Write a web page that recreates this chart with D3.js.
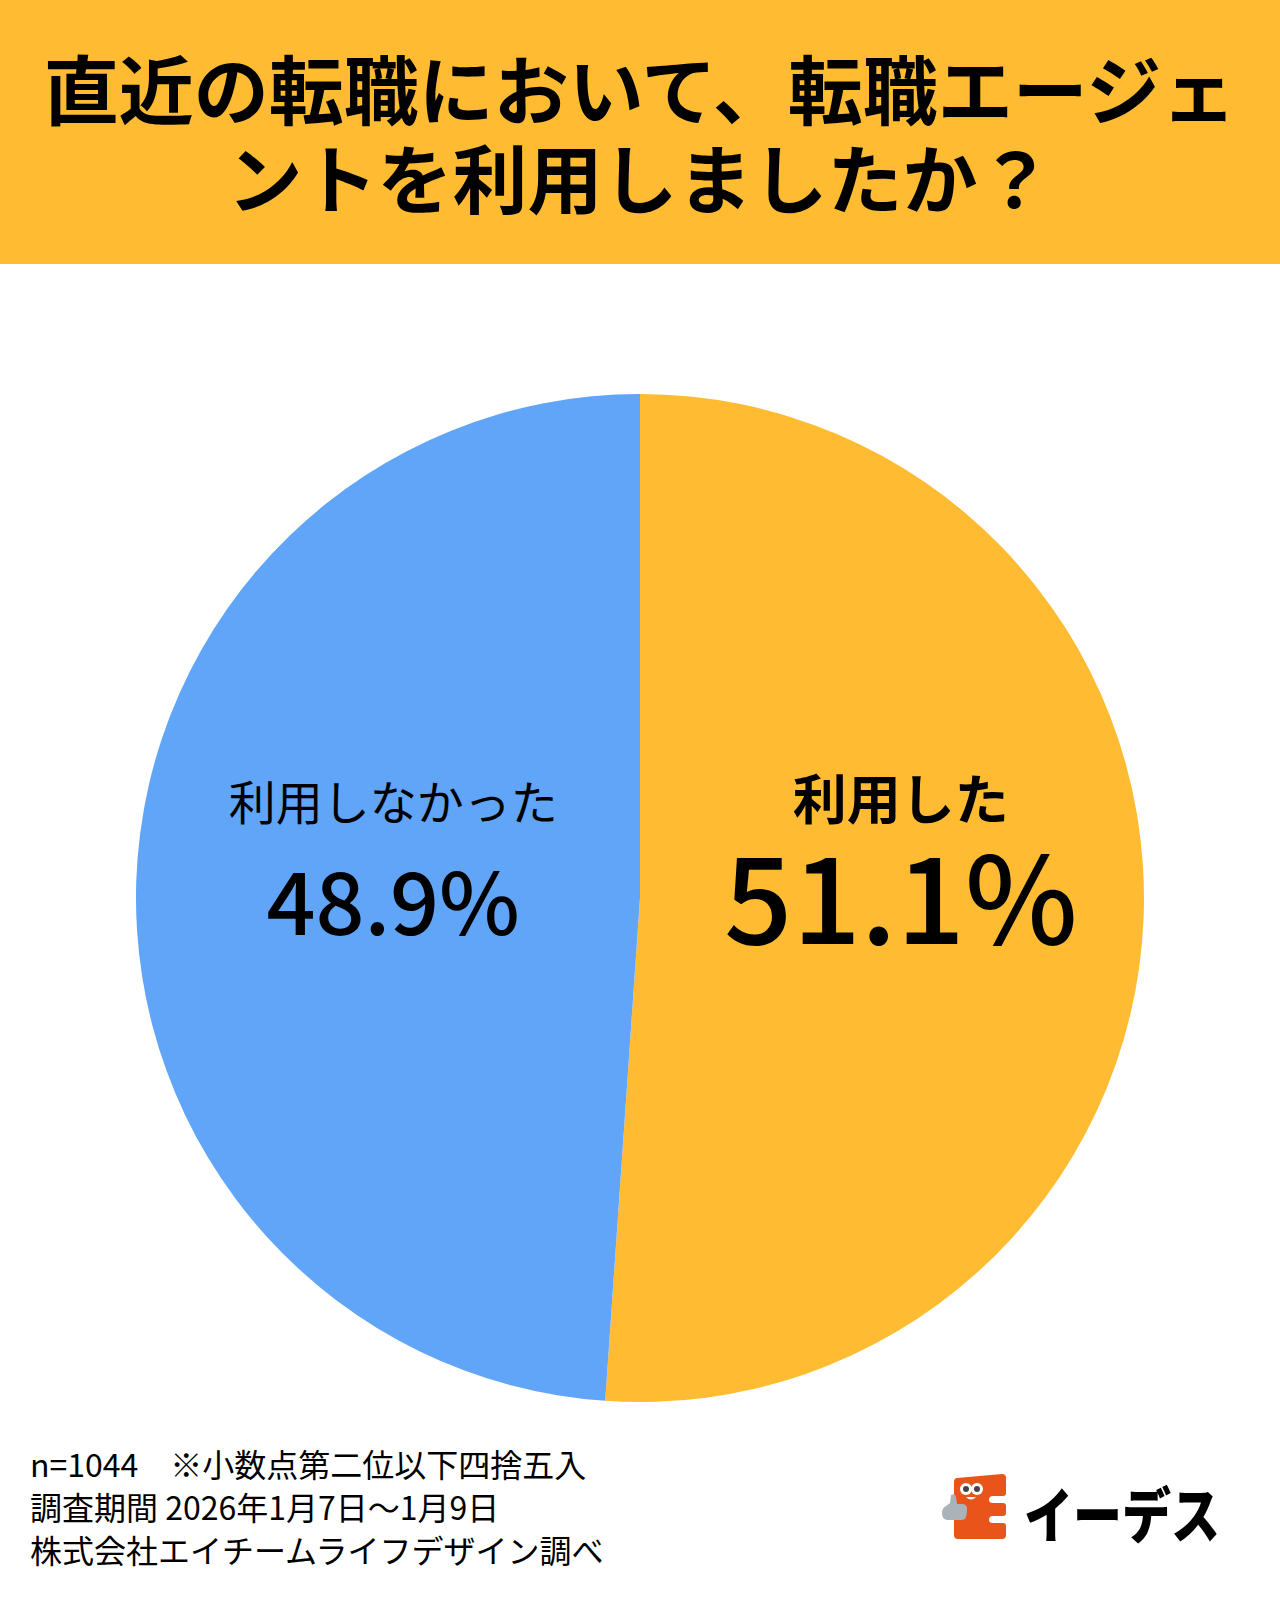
<!DOCTYPE html>
<html>
<head>
<meta charset="utf-8">
<script src="https://cdn.jsdelivr.net/npm/d3@7"></script>
<style>
  html, body { margin: 0; padding: 0; background: #ffffff; }
  svg { display: block; }
  text { font-family: "Noto Sans CJK JP", "Noto Sans", sans-serif; fill: #000; }
</style>
</head>
<body>
<svg id="chart" width="1280" height="1600"></svg>
<script>
// ---- data ----
const titleLines = ["直近の転職において、転職エージェ", "ントを利用しましたか？"];
const categories = ["利用した", "利用しなかった"];
const values = [51.1, 48.9];
const valueLabels = ["51.1%", "48.9%"];
const footnotes = [
  "n=1044\u3000※小数点第二位以下四捨五入",
  "調査期間 2026年1月7日～1月9日",
  "株式会社エイチームライフデザイン調べ"
];
const brandName = "イーデス";

// ---- styles ----
const W = 1280, H = 1600;
const ORANGE = "#FFBC33";
const BLUE = "#61A5F9";
const colors = d3.scaleOrdinal().domain(categories).range([ORANGE, BLUE]);

const svg = d3.select("#chart");
svg.append("rect").attr("width", W).attr("height", H).attr("fill", "#fff");

// header
svg.append("rect").attr("x", 0).attr("y", 0).attr("width", W).attr("height", 264).attr("fill", ORANGE);
svg.selectAll("text.title").data(titleLines).join("text")
  .attr("class", "title")
  .attr("x", W / 2)
  .attr("y", (d, i) => 86 + i * 89)
  .attr("text-anchor", "middle")
  .attr("dominant-baseline", "central")
  .attr("font-size", 75)
  .attr("font-weight", 700)
  .text(d => d);

// pie
const cx = 640, cy = 898, R = 504;
const pie = d3.pie().sort(null).value(d => d.value).startAngle(0).endAngle(2 * Math.PI);
const data = categories.map((c, i) => ({ name: c, value: values[i], label: valueLabels[i] }));
const arcs = pie(data);
const arc = d3.arc().innerRadius(0).outerRadius(R);
const labelArc = d3.arc().innerRadius(254).outerRadius(254);

const g = svg.append("g").attr("transform", `translate(${cx},${cy})`);
g.selectAll("path").data(arcs).join("path")
  .attr("d", arc)
  .attr("fill", d => colors(d.data.name));

// labels
const labelDx = 7;
const labelStyle = [
  { nameSize: 54, nameWeight: 700, nameDy: -110, valSize: 120, valWeight: 500, valDy: 37 },
  { nameSize: 47, nameWeight: 400, nameDy: -90, valSize: 86, valWeight: 500, valDy: 46 }
];
const lg = g.selectAll("g.lbl").data(arcs).join("g")
  .attr("class", "lbl")
  .attr("transform", d => { const c = labelArc.centroid(d); return `translate(${c[0] + labelDx},${c[1]})`; });
lg.append("text")
  .attr("text-anchor", "middle")
  .attr("dominant-baseline", "central")
  .attr("y", (d, i) => labelStyle[i].nameDy)
  .attr("font-size", (d, i) => labelStyle[i].nameSize)
  .attr("font-weight", (d, i) => labelStyle[i].nameWeight)
  .text(d => d.data.name);
lg.append("text")
  .attr("text-anchor", "middle")
  .attr("y", (d, i) => labelStyle[i].valDy)
  .attr("font-size", (d, i) => labelStyle[i].valSize)
  .attr("font-weight", (d, i) => labelStyle[i].valWeight)
  .text(d => d.data.label);

// footnotes
svg.selectAll("text.note").data(footnotes).join("text")
  .attr("class", "note")
  .attr("x", 30)
  .attr("y", (d, i) => 1463 + i * 43)
  .attr("dominant-baseline", "central")
  .attr("font-size", 32)
  .attr("font-weight", 400)
  .text(d => d);

// logo
const logo = svg.append("g");
logo.append("path")
  .attr("d", "M957,1478 L1002,1474 Q1006,1474 1006,1478 L1006,1493 Q1006,1496 1003,1496 L993,1496 Q989,1496 989,1500 Q989,1503 993,1503 L1003,1503 Q1006,1503 1006,1506 L1006,1513 Q1006,1516 1003,1516 L993,1516 Q989,1516 989,1520 Q989,1523 993,1523 L1003,1523 Q1006,1523 1006,1526 L1006,1535 Q1006,1539 1002,1539 L958,1539 Q954,1539 954,1535 L954,1482 Q954,1478 957,1478 Z")
  .attr("fill", "#E9541A");
[[966, 1489], [977, 1489]].forEach(p => {
  logo.append("circle").attr("cx", p[0]).attr("cy", p[1]).attr("r", 6).attr("fill", "#fff");
  logo.append("circle").attr("cx", p[0]).attr("cy", p[1]).attr("r", 3).attr("fill", "#444");
});
logo.append("path").attr("d", "M966,1497 Q971,1502 976,1497 Z").attr("fill", "#fff");
logo.append("path")
  .attr("d", "M951,1495 Q955,1493 956,1497 L957,1504 L963,1504 Q968,1505 967,1511 L966,1517 Q965,1520 961,1520 L947,1520 Q942,1519 942,1513 Q942,1508 946,1506 L950,1503 Z")
  .attr("fill", "#AAB3BA");
logo.append("text")
  .attr("x", 1024).attr("y", 1511)
  .attr("dominant-baseline", "central")
  .attr("font-size", 60)
  .attr("font-weight", 900)
  .attr("textLength", 196)
  .attr("lengthAdjust", "spacingAndGlyphs")
  .text(brandName);
</script>
</body>
</html>
